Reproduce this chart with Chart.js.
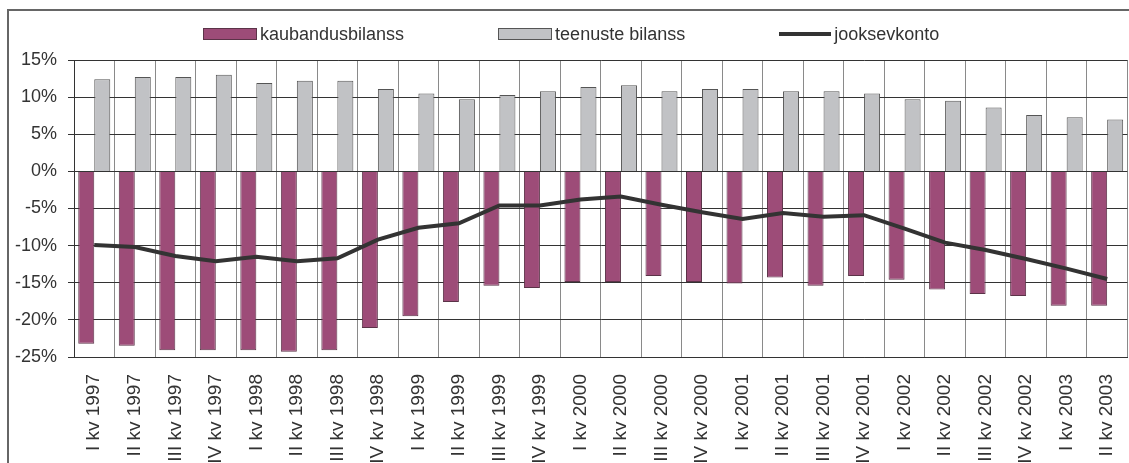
<!DOCTYPE html>
<html>
<head>
<meta charset="utf-8">
<script src="https://cdn.jsdelivr.net/npm/chart.js@4"></script>
<style>
html,body{margin:0;padding:0;background:#fff;overflow:hidden}
#wrap{position:relative;width:1129px;height:463px;overflow:hidden}
#frame{position:absolute;left:7px;top:9px;width:1140px;height:470px;border-left:2px solid #666;border-top:2px solid #666;box-sizing:border-box}
#lg{position:absolute;left:203px;top:24px;display:flex;align-items:center;gap:94px;font:18px "Liberation Sans",Arial,sans-serif;color:#333}
.it{display:flex;align-items:center;gap:3px;height:20px}
.bx{width:52px;height:10px;border:1px solid #555}
.ln{width:52px;height:4px;background:#333}
canvas{position:absolute;left:0;top:0}
</style>
</head>
<body>
<div id="wrap">
  <div id="frame"></div>
  <canvas id="c" width="1147" height="463"></canvas>
  <div id="lg"></div>
</div>
<script>
// kvartalid
const kvartalid=['I kv 1997','II kv 1997','III kv 1997','IV kv 1997','I kv 1998','II kv 1998','III kv 1998','IV kv 1998',
  'I kv 1999','II kv 1999','III kv 1999','IV kv 1999','I kv 2000','II kv 2000','III kv 2000','IV kv 2000',
  'I kv 2001','II kv 2001','III kv 2001','IV kv 2001','I kv 2002','II kv 2002','III kv 2002','IV kv 2002',
  'I kv 2003','II kv 2003'];
const kaubandus=[-23.2,-23.5,-24.1,-24.1,-24.1,-24.3,-24.1,-21.1,-19.5,-17.6,-15.4,-15.7,-14.9,-14.9,-14.1,-14.9,
  -15.1,-14.3,-15.4,-14.1,-14.6,-15.9,-16.5,-16.8,-18.1,-18.1];
const teenused=[12.4,12.7,12.7,13.0,11.9,12.2,12.2,11.1,10.5,9.7,10.3,10.8,11.35,11.6,10.8,11.1,
  11.1,10.8,10.8,10.5,9.7,9.5,8.6,7.6,7.3,7.0];
const jooksev=[-9.9,-10.2,-11.4,-12.1,-11.5,-12.1,-11.7,-9.2,-7.6,-7.0,-4.6,-4.6,-3.8,-3.4,-4.5,-5.5,
  -6.4,-5.6,-6.1,-5.9,-7.7,-9.6,-10.6,-11.8,-13.1,-14.5];
const yMin=-25,yMax=15,yStep=5;

const FONT='"Liberation Sans",Arial,sans-serif';
const C_KAUB='#9d4c78',C_TEEN='#c1c2c5',C_JOOK='#333333';

// legend (html)
const LG=[
  {t:'kaubandusbilanss',s:'<div class="bx" style="background:'+C_KAUB+';border-color:#5b3348"></div>'},
  {t:'teenuste bilanss',s:'<div class="bx" style="background:'+C_TEEN+'"></div>'},
  {t:'jooksevkonto',s:'<div class="ln"></div>'}
];
document.getElementById('lg').innerHTML=LG.map(l=>'<div class="it">'+l.s+'<span>'+l.t+'</span></div>').join('');

new Chart(document.getElementById('c'),{
  type:'bar',
  data:{labels:kvartalid,datasets:[
    {type:'line',label:'jooksevkonto',data:jooksev,borderColor:C_JOOK,borderWidth:4,pointRadius:0,tension:0,order:0},
    {label:'kaubandusbilanss',data:kaubandus,backgroundColor:C_KAUB,borderColor:'#5b3348',borderWidth:1,order:1},
    {label:'teenuste bilanss',data:teenused,backgroundColor:C_TEEN,borderColor:'#555',borderWidth:1,order:2}
  ]},
  options:{
    responsive:false,animation:false,
    layout:{padding:{top:60,right:2,left:0,bottom:0}},
    datasets:{bar:{categoryPercentage:0.79,barPercentage:1}},
    plugins:{legend:{display:false},tooltip:{enabled:false}},
    scales:{
      x:{
        grid:{color:'#8a8a8a',lineWidth:1,drawTicks:false,offset:true},
        border:{color:'#333'},
        ticks:{font:{family:FONT,size:19},color:'#333',maxRotation:90,minRotation:90,padding:17,autoSkip:false},
        afterFit(s){s.height=106}
      },
      y:{
        min:yMin,max:yMax,
        grid:{color:'#333',lineWidth:1,tickLength:6,tickColor:'#333'},
        border:{color:'#333'},
        ticks:{stepSize:yStep,font:{family:FONT,size:18},color:'#333',padding:11,callback:v=>v+'%'},
        afterFit(s){s.width=74}
      }
    }
  }
});
</script>
</body>
</html>
